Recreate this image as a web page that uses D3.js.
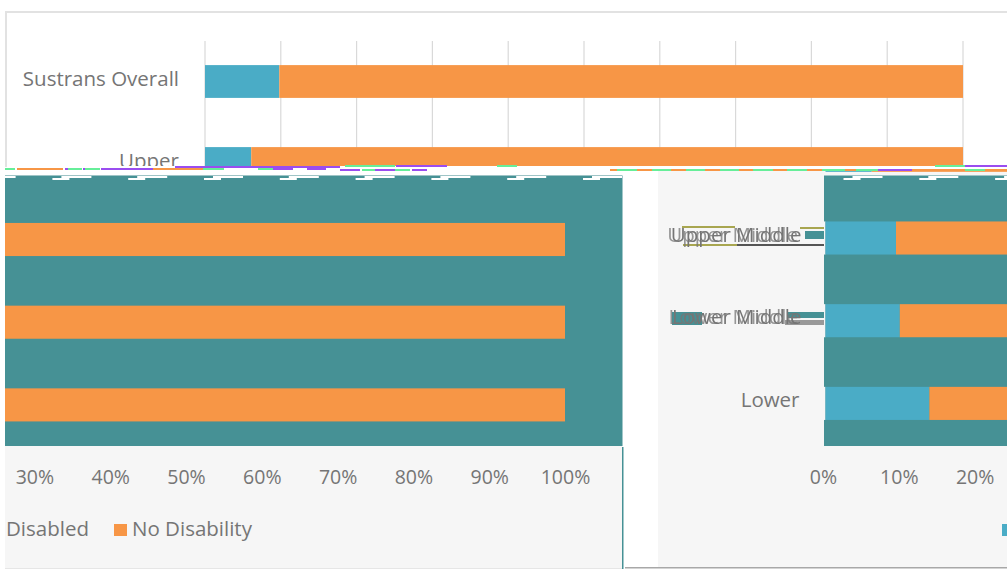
<!DOCTYPE html>
<html>
<head>
<meta charset="utf-8">
<script src="https://cdn.jsdelivr.net/npm/d3@7/dist/d3.min.js"></script>
<style>
  html, body { margin: 0; padding: 0; background: #fff; overflow: hidden; }
  svg { display: block; filter: blur(0.5px); font-family: "Open Sans", sans-serif; }
  .axis path { display: none; }
  .axis text { fill: #757575; font-size: 19.5px; font-family: "Open Sans", sans-serif; }
  .axis.cat text { font-size: 20.5px; }
</style>
</head>
<body>
<svg id="chart" width="1007" height="569"></svg>
<script>
/* ---------------- DATA ---------------- */
const categories = ["Sustrans Overall", "Upper", "Upper Middle", "Lower Middle", "Lower"];
const disabled = [9.8, 6.1, 9.3, 9.8, 13.7];
const noDisability = [90.2, 93.9, 90.7, 90.2, 86.3];
const gridTicks = [0, 10, 20, 30, 40, 50, 60, 70, 80, 90, 100];
const leftTicks = [30, 40, 50, 60, 70, 80, 90, 100];
const rightTicks = [0, 10, 20];
const seriesNames = ["Disabled", "No Disability"];

const BLUE = "#4aacc6", ORANGE = "#f79646", TEAL = "#469195", GREY = "#f6f6f6";
const GREEN = "#66ee99", PURPLE = "#9a4df0";

const rows = categories.map((c, i) => ({ c, a: disabled[i], b: noDisability[i] }));
const svg = d3.select("#chart");
const defs = svg.append("defs");

function clip(id, x, y, w, h) {
  defs.append("clipPath").attr("id", id).append("rect")
    .attr("x", x).attr("y", y).attr("width", w).attr("height", h);
  return `url(#${id})`;
}
function box(g, x, y, w, h, fill) {
  return g.append("rect").attr("x", x).attr("y", y).attr("width", w).attr("height", h).attr("fill", fill);
}
function xScale(origin) {
  return d3.scaleLinear().domain([0, 100]).range([origin, origin + 758]);
}
function yScale(start, step) {
  return d3.scaleBand().domain(categories).range([start, start + step * categories.length])
    .paddingInner(0.6).paddingOuter(0.3);
}
function drawBars(g, x, y) {
  g.selectAll(".disabled").data(rows).enter().append("rect")
    .attr("x", x(0)).attr("y", d => y(d.c))
    .attr("width", d => x(d.a) - x(0)).attr("height", y.bandwidth()).attr("fill", BLUE);
  g.selectAll(".nodis").data(rows).enter().append("rect")
    .attr("x", d => x(d.a)).attr("y", d => y(d.c))
    .attr("width", d => x(d.a + d.b) - x(d.a)).attr("height", y.bandwidth()).attr("fill", ORANGE);
}
function drawCategoryAxis(g, x, y, names) {
  g.append("g").attr("class", "axis cat")
    .attr("transform", `translate(${x(0)},-2.5)`)
    .call(d3.axisLeft(y).tickSize(0).tickPadding(26).tickValues(names));
}

/* ---------------- TOP PANEL ---------------- */
box(svg, 5, 11, 1002, 156, "#e2e2e2");
box(svg, 7, 13, 1000, 154, "#fff");

const topX = xScale(205);
const topY = yScale(40.5, 82);
const topPanel = svg.append("g").attr("clip-path", clip("clipTop", 7, 13, 1000, 153));
topPanel.selectAll(".grid").data(gridTicks).enter().append("line")
  .attr("x1", d => topX(d)).attr("x2", d => topX(d))
  .attr("y1", 41).attr("y2", 166)
  .attr("stroke", "#d9d9d9").attr("stroke-width", 1.2);
drawBars(topPanel, topX, topY);
drawCategoryAxis(topPanel, topX, topY, ["Sustrans Overall", "Upper"]);

/* ---------------- LOWER PANELS (same chart, shifted) ---------------- */
function drawLower(clipId, bounds, origin, rowStart, ticks, tickShift) {
  const g = svg.append("g").attr("clip-path", clip(clipId, bounds[0], bounds[1], bounds[2], bounds[3]));
  const x = xScale(origin);
  const y = yScale(rowStart, 82.7);

  box(g, bounds[0], bounds[1], bounds[2], bounds[3], GREY);
  box(g, origin - 1.5, 175.5, 850, 270.5, TEAL);
  // bars sit in gaps that let the panel grey through at the baseline
  g.selectAll(".gap").data(rows.slice(2)).enter().append("rect")
    .attr("x", origin - 1.5).attr("y", d => y(d.c))
    .attr("width", 1.5).attr("height", y.bandwidth()).attr("fill", GREY);
  drawBars(g, x, y);

  g.append("g").attr("class", "axis").attr("transform", `translate(${tickShift},450)`)
    .call(d3.axisBottom(x).tickValues(ticks).tickSize(0).tickPadding(20).tickFormat(d => d + "%"));

  // torn white dashes along the top of the teal block
  g.selectAll(".dashA").data(gridTicks).enter().append("rect")
    .attr("x", d => x(d) + 18).attr("y", 178).attr("width", 17).attr("height", 2).attr("fill", "#fff");
  g.selectAll(".dashB").data(gridTicks).enter().append("rect")
    .attr("x", d => x(d) + 27).attr("y", 176).attr("width", 30).attr("height", 2).attr("fill", "#fff");

  return { g, x, y };
}

box(svg, 0, 170, 1007, 399, "#fff");
const leftPanel = drawLower("clipLeft", [5, 175, 617.5, 393], -193, 32.75, leftTicks, 0);
const rightPanel = drawLower("clipRight", [658, 170, 349, 397], 825.5, 31.25, rightTicks, -2.5);
drawCategoryAxis(rightPanel.g, rightPanel.x, rightPanel.y, ["Lower"]);

// legend: the left piece shows its text, the right piece only the first swatch
box(leftPanel.g, 114, 524, 13, 12, ORANGE);
leftPanel.g.selectAll(".legendText").data(seriesNames).enter().append("text")
  .attr("x", (d, i) => i ? 132 : 6).attr("y", 536)
  .attr("fill", "#757575").attr("font-size", 20.5).text(d => d);
box(rightPanel.g, 1002, 524, 13, 12, BLUE);

box(svg, 622, 447, 1.5, 122, TEAL);
box(svg, 625, 567, 382, 1.5, "#a8a8a8");
box(svg, 5, 568, 617, 1, "#e6e6e6");

/* ---------------- SCAN-LINE ARTEFACTS ---------------- */
const noise = svg.append("g");
[
  [5, 168, 10, 2, GREEN], [17, 168, 46, 2, ORANGE], [65, 168, 3, 2, PURPLE], [68, 168, 14, 2, GREEN],
  [83, 168, 2, 2, PURPLE], [85, 168, 15, 2, GREEN], [101, 168, 52, 2, PURPLE], [153, 168, 50, 2, ORANGE],
  [203, 168, 21, 2, GREEN], [258, 168, 15, 2, GREEN], [273, 168, 20, 2, PURPLE], [307, 168, 19, 2, PURPLE],
  [175, 166, 165, 2, PURPLE], [345, 165, 50, 2, GREEN], [396, 165, 51, 2, PURPLE], [497, 165, 20, 2, GREEN],
  [340, 169, 20, 2, PURPLE], [362, 169, 13, 2, GREEN], [375, 169, 20, 2, PURPLE], [395, 169, 15, 2, GREEN],
  [412, 169, 15, 2, PURPLE], [610, 169, 268, 2, ORANGE], [617, 169, 20, 2, GREEN], [652, 169, 19, 2, GREEN],
  [686, 169, 19, 2, GREEN], [720, 169, 19, 2, GREEN], [753, 169, 20, 2, GREEN], [787, 169, 20, 2, GREEN],
  [822, 169, 23, 2, GREEN], [856, 169, 22, 2, GREEN], [878, 169, 34, 2, PURPLE], [912, 169, 53, 2, ORANGE],
  [965, 169, 20, 2, GREEN], [985, 169, 22, 2, ORANGE], [935, 165, 30, 2, GREEN], [965, 165, 42, 2, PURPLE],
  [682, 226, 53, 2, "#a8a650"], [683, 244, 54, 2, "#a8a650"], [800, 227, 24, 2, "#a8a650"],
  [805, 231, 19, 8, TEAL], [737, 244, 87, 2, "#555"],
  [672, 312, 30, 13, TEAL], [787, 312, 37, 6, TEAL], [785, 320, 39, 5, "#999"]
].forEach(s => box(noise, s[0], s[1], s[2], s[3], s[4]));

// doubled, misregistered labels in the torn part of the picture
const labelEnd = rightPanel.x(0) - 24;
["Upper Middle", "Lower Middle"].forEach(name => {
  const yc = rightPanel.y(name) + rightPanel.y.bandwidth() / 2 - 3;
  [0, -3.5].forEach((dx, i) => {
    noise.append("text").attr("x", labelEnd + dx).attr("y", yc).attr("dy", "0.32em")
      .attr("text-anchor", "end").attr("fill", "#757575").attr("fill-opacity", i ? 0.75 : 1)
      .attr("font-size", 20.5).text(name);
  });
});
</script>
</body>
</html>
